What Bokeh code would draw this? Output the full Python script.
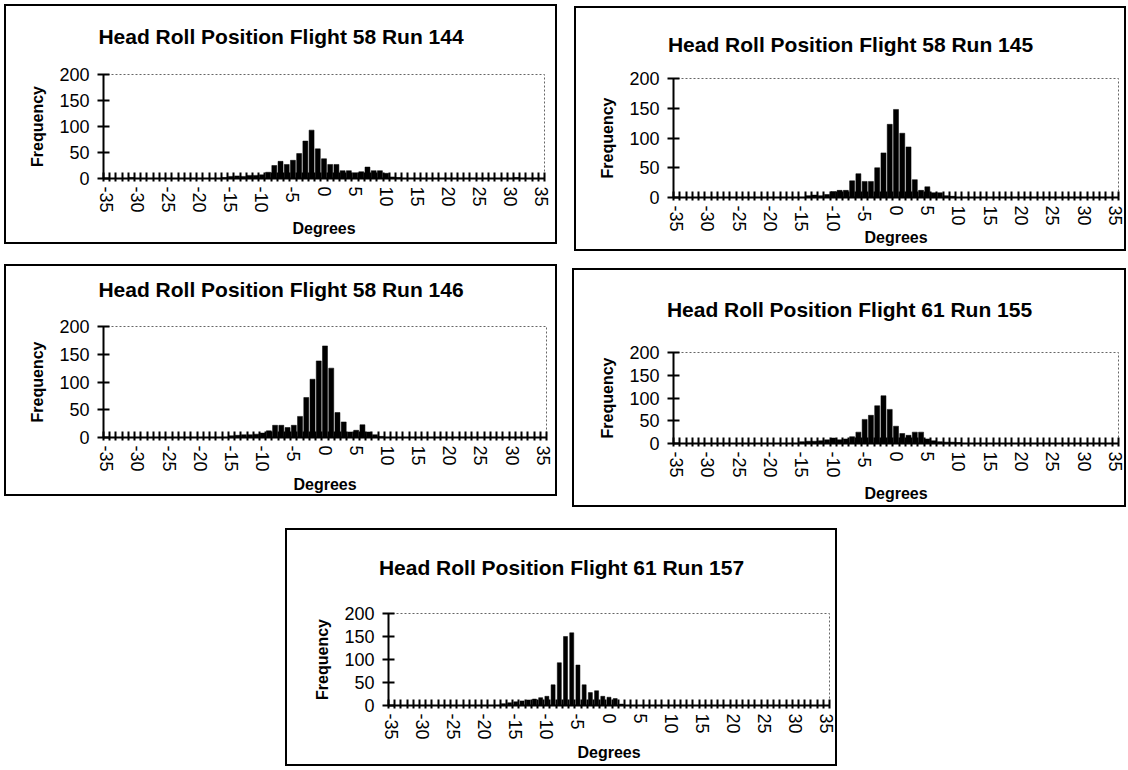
from bokeh.plotting import figure
from bokeh.models import FixedTicker, Label
from bokeh.embed import file_html
from bokeh.resources import INLINE

# ---------------- data ----------------
degrees = list(range(-35, 36))
x_tick_values = list(range(-35, 36, 5))
x_tick_labels = [str(v) for v in x_tick_values]
y_tick_values = [0, 50, 100, 150, 200]

titles = [
    "Head Roll Position Flight 58 Run 144",
    "Head Roll Position Flight 58 Run 145",
    "Head Roll Position Flight 58 Run 146",
    "Head Roll Position Flight 61 Run 155",
    "Head Roll Position Flight 61 Run 157",
]
x_axis_title = "Degrees"
y_axis_title = "Frequency"

#            -35 .. -26                      -25 .. -16                      -15 .. -6
run144 = [0, 0, 0, 0, 2, 0, 0, 0, 0, 0,   0, 0, 0, 0, 0, 0, 0, 0, 0, 2,   4, 5, 4, 6, 6, 7, 12, 25, 33, 27,
          # -5 .. 4
          35, 48, 72, 93, 57, 38, 27, 27, 15, 15,
          # 5 .. 14
          11, 13, 22, 15, 15, 10, 3, 2, 0, 0,
          # 15 .. 35
          0, 0, 0, 0, 0, 0, 0, 0, 0, 0, 0, 0, 0, 0, 0, 0, 2, 0, 0, 0, 0]
run145 = [0, 0, 0, 0, 0, 0, 0, 0, 0, 0,   0, 0, 0, 0, 0, 0, 0, 0, 0, 0,   0, 3, 4, 3, 5, 10, 12, 12, 28, 40,
          27, 27, 50, 75, 123, 148, 108, 85, 30, 12,
          18, 8, 8, 3, 2, 0, 0, 0, 0, 0,
          0, 0, 0, 0, 0, 0, 0, 0, 0, 0, 0, 0, 0, 0, 0, 0, 0, 0, 0, 0, 0]
run146 = [0, 0, 0, 0, 0, 0, 0, 0, 0, 0,   0, 0, 0, 0, 0, 0, 0, 0, 0, 0,   3, 4, 5, 5, 6, 8, 12, 22, 22, 18,
          22, 38, 72, 105, 138, 165, 125, 45, 28, 10,
          13, 23, 10, 5, 2, 0, 0, 0, 0, 0,
          0, 0, 0, 0, 0, 0, 0, 0, 0, 0, 0, 0, 0, 0, 0, 0, 0, 0, 0, 0, 0]
run155 = [0, 0, 0, 0, 0, 0, 0, 0, 0, 0,   0, 0, 0, 0, 0, 0, 0, 0, 0, 0,   4, 5, 5, 6, 8, 12, 8, 10, 15, 25,
          53, 62, 83, 105, 75, 38, 22, 18, 25, 25,
          10, 6, 4, 3, 3, 2, 0, 0, 0, 0,
          0, 0, 0, 0, 0, 0, 0, 0, 0, 0, 0, 0, 0, 0, 0, 0, 0, 0, 0, 0, 0]
run157 = [0, 0, 0, 0, 0, 0, 0, 0, 0, 0,   0, 0, 0, 0, 0, 0, 0, 0, 4, 6,   8, 10, 12, 14, 17, 20, 45, 93, 150, 158,
          88, 45, 28, 32, 20, 18, 15, 3, 0, 0,
          0, 0, 0, 0, 0, 0, 0, 0, 0, 0,
          0, 0, 0, 0, 0, 0, 0, 0, 0, 0, 0, 0, 0, 0, 0, 0, 0, 0, 0, 0, 0]

FONT = "Liberation Sans"
BOX = 2               # width of the panel's outer box line
TITLE_BOX_H = 23      # height the title label takes in the panel above the frame


def make_panel(title, counts, X, Y, W, H, L, R, T, B, c, d, bar_w):
    # all sizes measured on the outer box; the figure sits inside the box line
    frame_w = W - L - R
    y_title = T - c                   # title centre, above the frame top
    y_deg = T - d - TITLE_BOX_H       # "Degrees" centre, below the frame
    x_title = W / 2 - L               # centre of the box, from the frame's left
    W, H, L, R, T, B = W - 2 * BOX, H - 2 * BOX, L - BOX, R - BOX, T - BOX, B - BOX
    p = figure(width=W, height=H, x_range=(-35.5, 35.5), y_range=(0, 200),
               output_backend="svg", toolbar_location=None, title=None,
               min_border_left=L, min_border_right=R,
               min_border_top=T, min_border_bottom=B,
               background_fill_color="white", border_fill_color="white")
    p.styles = {"position": "absolute", "left": f"{X + BOX}px", "top": f"{Y + BOX}px",
                "box-shadow": f"0 0 0 {BOX}px black"}

    p.add_layout(Label(x=x_title, y=y_title, x_units="screen", y_units="screen",
                       text=title, text_align="center", text_baseline="middle",
                       text_font=FONT, text_font_size="21px", text_font_style="bold",
                       text_color="black"), "above")
    p.add_layout(Label(x=frame_w / 2, y=y_deg, x_units="screen", y_units="screen",
                       text=x_axis_title, text_align="center", text_baseline="middle",
                       text_font=FONT, text_font_size="16px", text_font_style="bold",
                       text_color="black"), "above")

    p.vbar(x=degrees, top=counts, width=bar_w, fill_color="black", line_color="black", line_width=0.5)

    p.grid.visible = False
    p.outline_line_color = "#666666"
    p.outline_line_width = 1
    p.outline_line_dash = "2 2"

    # x axis
    xa = p.xaxis[0]
    xa.ticker = FixedTicker(ticks=x_tick_values,
                            minor_ticks=[v + 0.5 for v in range(-36, 36)])
    xa.major_label_overrides = {v: lab for v, lab in zip(x_tick_values, x_tick_labels)}
    xa.major_label_orientation = "vertical"
    xa.major_tick_in = 0
    xa.major_tick_out = 0
    xa.minor_tick_in = 6
    xa.minor_tick_out = 3
    xa.minor_tick_line_color = "black"
    xa.minor_tick_line_width = 2
    xa.axis_line_color = "black"
    xa.axis_line_width = 2
    xa.major_label_standoff = 5
    xa.major_label_text_font = FONT
    xa.major_label_text_font_size = "18px"
    xa.major_label_text_color = "black"

    # y axis
    ya = p.yaxis[0]
    ya.ticker = FixedTicker(ticks=y_tick_values)
    ya.major_tick_in = 6
    ya.major_tick_out = 6
    ya.major_tick_line_width = 2
    ya.major_tick_line_color = "black"
    ya.minor_tick_in = 0
    ya.minor_tick_out = 0
    ya.axis_line_color = "black"
    ya.axis_line_width = 2
    ya.major_label_standoff = 8
    ya.major_label_text_font = FONT
    ya.major_label_text_font_size = "18px"
    ya.major_label_text_color = "black"
    ya.axis_label = y_axis_title
    ya.axis_label_text_font = FONT
    ya.axis_label_text_font_size = "16px"
    ya.axis_label_text_font_style = "bold"
    ya.axis_label_text_color = "black"
    ya.axis_label_standoff = 10
    return p


#                                      X    Y    W    H    L    R   T   B  title deg  bar
p1 = make_panel(titles[0], run144,     4,   4, 553, 240,  99, 13, 70, 66, 32, 224, 0.8)
p2 = make_panel(titles[1], run145,   574,   6, 552, 245,  99,  8, 72, 54, 38, 231, 0.8)
p3 = make_panel(titles[2], run146,     4, 264, 553, 232,  99, 11, 62, 59, 25, 220, 0.8)
p4 = make_panel(titles[3], run155,   572, 268, 554, 239, 101,  8, 84, 64, 41, 225, 0.8)
p5 = make_panel(titles[4], run157,   285, 528, 552, 238, 103,  8, 85, 61, 39, 224, 0.65)

open("out.html", "w").write(file_html([p1, p2, p3, p4, p5], INLINE))
